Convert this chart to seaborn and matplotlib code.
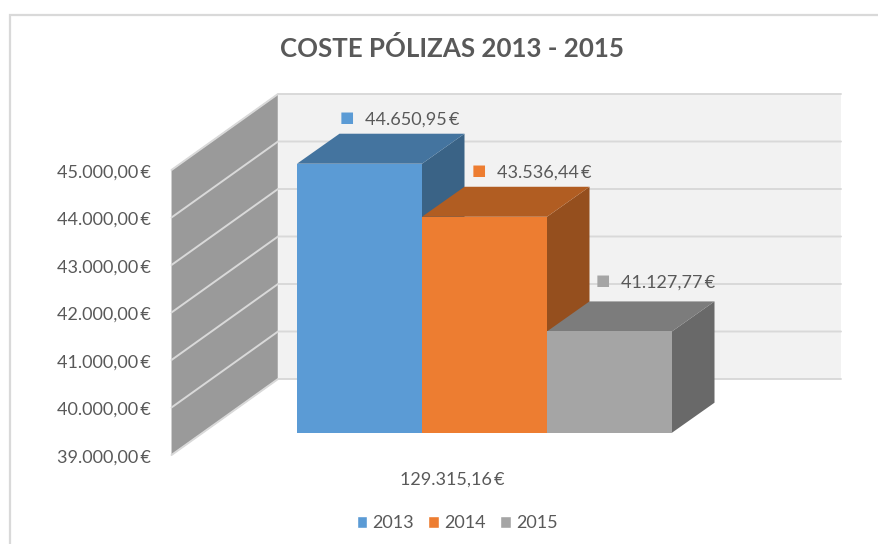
import matplotlib
matplotlib.use("Agg")
import matplotlib.pyplot as plt
from matplotlib.lines import Line2D
from matplotlib.patches import Polygon, Rectangle
from matplotlib.transforms import ScaledTranslation
import pandas as pd
import seaborn as sns

years = ["2013", "2014", "2015"]
costs = [44650.95, 43536.44, 41127.77]
labels = ["44.650,95\u2009€", "43.536,44\u2009€", "41.127,77\u2009€"]
total_label = "129.315,16\u2009€"
y_ticks = [39000, 40000, 41000, 42000, 43000, 44000, 45000]
y_tick_labels = ["39.000,00\u2009€", "40.000,00\u2009€", "41.000,00\u2009€", "42.000,00\u2009€",
                 "43.000,00\u2009€", "44.000,00\u2009€", "45.000,00\u2009€"]
title = "COSTE PÓLIZAS 2013 - 2015"

front_colors = ["#5B9BD5", "#ED7D31", "#A5A5A5"]
top_colors = ["#44749F", "#B15D22", "#7C7C7C"]
side_colors = ["#3A6386", "#954F1E", "#696969"]
TEXT = "#595959"
W, H = 879, 544
FS = 13

sns.set_theme(style="white")
plt.rcParams["font.family"] = ["Lato", "DejaVu Sans"]

fig = plt.figure(figsize=(W / 100, H / 100), dpi=100, facecolor="white")


def px_axes(x0, x1, y_top, y_bottom):
    return fig.add_axes([x0 / W, 1 - y_bottom / H, (x1 - x0) / W, (y_bottom - y_top) / H])


# ---- walls: the axes spans the side wall's front-to-back width
wall = px_axes(171.5, 278, 170, 455)
wall.set_xlim(0, 1)
wall.set_ylim(39000, 45000)
wall.patch.set_alpha(0)
for s in wall.spines.values():
    s.set_visible(False)
wall.set_xticks([])
wall.set_yticks(y_ticks, y_tick_labels, fontsize=FS, color=TEXT)
wall.tick_params(axis="y", length=0, pad=15)
nudge = ScaledTranslation(0, -1 / 100, fig.dpi_scale_trans)
for lab in wall.get_yticklabels():
    lab.set_transform(lab.get_transform() + nudge)
rise = 76 / (285 / 6000)
back_end = (841 - 171.5) / 106.5
wall.add_patch(Polygon([(0, 39000), (1, 39000 + rise), (1, 45000 + rise), (0, 45000)],
                       facecolor="#9A9A9A", edgecolor="#D0D0D0", lw=0.6, clip_on=False, zorder=1))
wall.add_patch(Rectangle((1, 39000 + rise), back_end - 1, 6000,
                         facecolor="#F2F2F2", edgecolor="none", clip_on=False, zorder=1))
for v in y_ticks:
    wall.plot([0, 1, back_end], [v, v + rise, v + rise], color="#D9D9D9", lw=1.4,
              clip_on=False, zorder=2, solid_joinstyle="miter")

# ---- bars
ax = px_axes(297, 672, 147.1, 432.7)
ax.set_zorder(wall.get_zorder() + 1)
ax.patch.set_alpha(0)
df = pd.DataFrame({"total": [total_label] * 3, "year": years, "cost": costs})
sns.barplot(data=df, x="total", y="cost", hue="year", palette=front_colors,
            width=1, gap=0, saturation=1, ax=ax, errorbar=None, legend=True)
ax.set_xlim(-0.5, 0.5)
ax.set_ylim(39000, 45000)
ax.set_xlabel("")
ax.set_ylabel("")
ax.set_xticks([])
ax.set_yticks([])
for s in ax.spines.values():
    s.set_visible(False)

ddx = 42.5 / 375
ddy = 30 / (285.6 / 6000)
base = 39000
bars = [c[0] for c in ax.containers]
for i, bar in enumerate(bars):
    x0, x1 = bar.get_x(), bar.get_x() + bar.get_width()
    v = bar.get_height()
    bar.set_zorder(5)
    bar.set_edgecolor("none")
    ax.add_patch(Polygon([(x1, base), (x1 + ddx, base + ddy), (x1 + ddx, v + ddy), (x1, v)],
                         facecolor=side_colors[i], edgecolor="none", clip_on=False, zorder=1 + i))
    ax.add_patch(Polygon([(x0, v), (x0 + ddx, v + ddy), (x1 + ddx, v + ddy), (x1, v)],
                         facecolor=top_colors[i], edgecolor="none", clip_on=False, zorder=1 + i))

# ---- data labels with their legend keys
key_dx = [-12.5, -5.8, -6.2]
key_dy = [45, 45, 50]
for i, bar in enumerate(bars):
    xc = bar.get_x() + bar.get_width() / 2
    v = bar.get_height()
    ax.annotate("■", (xc, v), xytext=(key_dx[i], key_dy[i] + 1), textcoords="offset pixels",
                ha="center", va="center", fontsize=11, color=front_colors[i],
                family="DejaVu Sans", annotation_clip=False, zorder=8)
    ax.annotate(labels[i], (xc, v), xytext=(key_dx[i] + 18, key_dy[i] - 1), textcoords="offset pixels",
                ha="left", va="center", fontsize=FS, color=TEXT, annotation_clip=False, zorder=8)

# ---- category label
ax.annotate(total_label, (0, base), xytext=(-32, -47), textcoords="offset pixels",
            ha="center", va="center", fontsize=FS, color=TEXT, annotation_clip=False)

# ---- legend
handles, leg_labels = ax.get_legend_handles_labels()
ax.legend_.remove()
fig.legend(handles, leg_labels, loc="center", bbox_to_anchor=(457 / W, 1 - 523.5 / H),
           ncol=3, frameon=False, fontsize=FS, labelcolor=TEXT, handlelength=0.6,
           handleheight=0.6, handletextpad=0.28, columnspacing=0.78, borderpad=0)

# ---- title and chart frame
fig.text(452 / W, 1 - 48.5 / H, title, ha="center", va="center", fontsize=18.6,
         fontweight="bold", color=TEXT)
fig.add_artist(Line2D([10 / W, 10 / W, 1], [0, 1 - 14.5 / H, 1 - 14.5 / H],
                      transform=fig.transFigure, color="#D9D9D9", lw=1.6,
                      solid_joinstyle="miter"))

fig.savefig("out.png", dpi=100)
